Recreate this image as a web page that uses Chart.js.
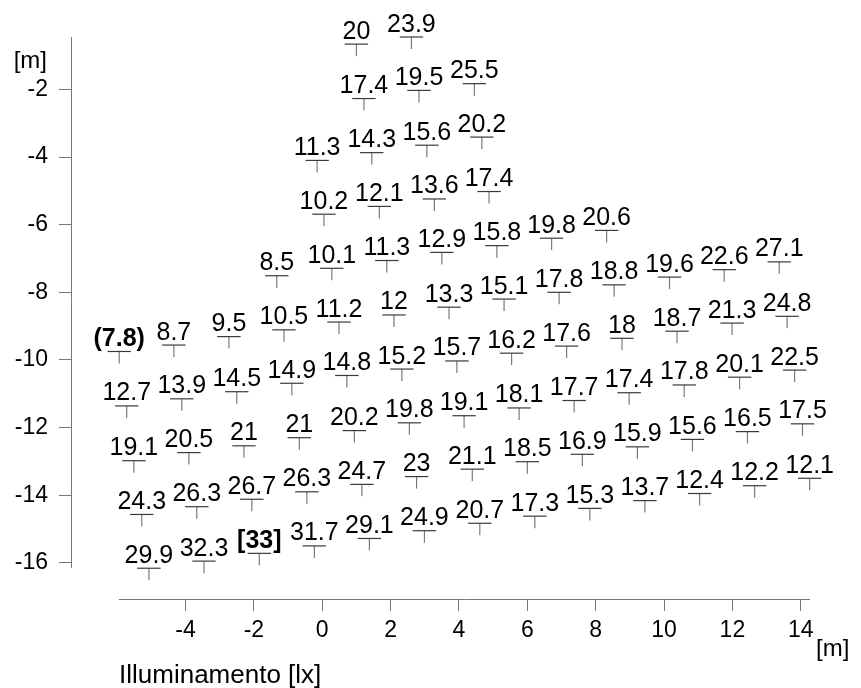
<!DOCTYPE html>
<html>
<head>
<meta charset="utf-8">
<script src="https://cdn.jsdelivr.net/npm/chart.js@4.4.1/dist/chart.umd.min.js"></script>
<style>
    html, body { margin: 0; padding: 0; background: #fff; }
</style>
</head>
<body>
<canvas id="mapChart" width="861" height="688"></canvas>
<script>
// Illuminamento misurato (lx), riga per riga dall'alto
const illum = [
    20, 23.9,
    17.4, 19.5, 25.5,
    11.3, 14.3, 15.6, 20.2,
    10.2, 12.1, 13.6, 17.4,
    8.5, 10.1, 11.3, 12.9, 15.8, 19.8, 20.6,
    7.8, 8.7, 9.5, 10.5, 11.2, 12, 13.3, 15.1, 17.8, 18.8, 19.6, 22.6, 27.1,
    12.7, 13.9, 14.5, 14.9, 14.8, 15.2, 15.7, 16.2, 17.6, 18, 18.7, 21.3, 24.8,
    19.1, 20.5, 21, 21, 20.2, 19.8, 19.1, 18.1, 17.7, 17.4, 17.8, 20.1, 22.5,
    24.3, 26.3, 26.7, 26.3, 24.7, 23, 21.1, 18.5, 16.9, 15.9, 15.6, 16.5, 17.5,
    29.9, 32.3, 33, 31.7, 29.1, 24.9, 20.7, 17.3, 15.3, 13.7, 12.4, 12.2, 12.1
];

// Posizione dei punti di misura [m]
const posX = [
    1.00, 2.61,
    1.22, 2.83, 4.45,
    -0.15, 1.45, 3.06, 4.67,
    0.05, 1.67, 3.28, 4.88,
    -1.33, 0.28, 1.89, 3.50, 5.11, 6.71, 8.32,
    -5.94, -4.34, -2.73, -1.12, 0.49, 2.10, 3.71, 5.32, 6.93, 8.54, 10.16, 11.76, 13.37,
    -5.72, -4.11, -2.50, -0.89, 0.72, 2.33, 3.94, 5.54, 7.15, 8.77, 10.38, 11.99, 13.60,
    -5.51, -3.90, -2.29, -0.67, 0.94, 2.55, 4.15, 5.76, 7.37, 8.98, 10.59, 12.21, 13.82,
    -5.28, -3.67, -2.06, -0.45, 1.16, 2.76, 4.39, 6.00, 7.61, 9.22, 10.83, 12.44, 14.05,
    -5.07, -3.46, -1.84, -0.23, 1.38, 2.99, 4.61, 6.22, 7.83, 9.44, 11.04, 12.65, 14.26
];
const posY = [
    -0.66, -0.45,
    -2.27, -2.03, -1.83,
    -4.10, -3.87, -3.65, -3.41,
    -5.69, -5.46, -5.24, -5.02,
    -7.51, -7.29, -7.06, -6.82, -6.62, -6.40, -6.17,
    -9.75, -9.56, -9.31, -9.11, -8.88, -8.67, -8.44, -8.20, -8.00, -7.78, -7.55, -7.33, -7.10,
    -11.36, -11.15, -10.94, -10.69, -10.46, -10.27, -10.03, -9.80, -9.59, -9.36, -9.15, -8.91, -8.71,
    -12.98, -12.74, -12.54, -12.30, -12.09, -11.86, -11.65, -11.42, -11.20, -10.97, -10.74, -10.51, -10.30,
    -14.57, -14.34, -14.12, -13.90, -13.68, -13.45, -13.23, -13.01, -12.79, -12.57, -12.35, -12.12, -11.89,
    -16.16, -15.95, -15.72, -15.50, -15.28, -15.05, -14.83, -14.62, -14.39, -14.16, -13.95, -13.72, -13.50
];

const xTicks = [-4, -2, 0, 2, 4, 6, 8, 10, 12, 14];
const yTicks = [-2, -4, -6, -8, -10, -12, -14, -16];

const FONT = '"Liberation Sans", Arial, sans-serif';
const points = posX.map((x, i) => ({ x: x, y: posY[i] }));

// etichette dei valori + assi disegnati a mano
const mapLabels = {
    id: 'mapLabels',
    afterDatasetsDraw(chart) {
        const ctx = chart.ctx;
        const meta = chart.getDatasetMeta(0);
        const lo = Math.min(...illum);
        const hi = Math.max(...illum);
        ctx.save();
        ctx.fillStyle = '#000';
        ctx.textAlign = 'center';
        ctx.textBaseline = 'alphabetic';
        meta.data.forEach((pt, i) => {
            const v = illum[i];
            let txt = String(v);
            let bold = false;
            if (v === lo) { txt = '(' + v + ')'; bold = true; }
            if (v === hi) { txt = '[' + v + ']'; bold = true; }
            ctx.font = (bold ? 'bold ' : '') + '25px ' + FONT;
            ctx.fillText(txt, pt.x, pt.y - 5.5);
        });
        ctx.restore();
    },
    afterDraw(chart) {
        const ctx = chart.ctx;
        const area = chart.chartArea;
        const xs = chart.scales.x;
        const ys = chart.scales.y;
        ctx.save();
        ctx.strokeStyle = '#777';
        ctx.lineWidth = 1;
        ctx.beginPath();
        // asse y
        ctx.moveTo(area.left + 0.5, area.top);
        ctx.lineTo(area.left + 0.5, ys.getPixelForValue(-16.15));
        // asse x
        ctx.moveTo(xs.getPixelForValue(-5.95), area.bottom + 0.5);
        ctx.lineTo(area.right, area.bottom + 0.5);
        ctx.stroke();

        ctx.fillStyle = '#000';
        ctx.font = '24px ' + FONT;
        ctx.textAlign = 'right';
        ctx.fillText('[m]', 47, 67.5);
        ctx.textAlign = 'left';
        ctx.fillText('[m]', 816, 655.5);
        ctx.font = '26px ' + FONT;
        ctx.fillText('Illuminamento [lx]', 119, 683);
        ctx.restore();
    }
};

const ctx = document.getElementById('mapChart').getContext('2d');

new Chart(ctx, {
    type: 'scatter',
    data: {
        datasets: [{
            data: points,
            pointStyle: 'line',
            pointRadius: 11.7,
            pointBorderColor: '#3a3a3a',
            pointBorderWidth: 1.2,
            clip: false
        }, {
            data: points,
            pointStyle: 'dash',
            pointRotation: 90,
            pointRadius: 12,
            pointBorderColor: '#7a7a7a',
            pointBorderWidth: 1.2,
            clip: false
        }]
    },
    options: {
        responsive: false,
        animation: false,
        events: [],
        layout: {
            padding: { top: 37, right: 51, left: 0, bottom: 0 }
        },
        plugins: {
            legend: { display: false },
            tooltip: { enabled: false }
        },
        scales: {
            x: {
                type: 'linear',
                min: -7.35,
                max: 14.27,
                afterBuildTicks: scale => { scale.ticks = xTicks.map(v => ({ value: v })); },
                afterFit: scale => { scale.height = 89; },
                border: { display: false },
                grid: { drawOnChartArea: false, drawTicks: true, tickLength: 12, color: '#777', lineWidth: 1 },
                ticks: { color: '#000', font: { family: FONT, size: 23 }, padding: 6, maxRotation: 0, autoSkip: false }
            },
            y: {
                type: 'linear',
                min: -17.07,
                max: -0.45,
                afterBuildTicks: scale => { scale.ticks = yTicks.map(v => ({ value: v })); },
                afterFit: scale => { scale.width = 71; },
                border: { display: false },
                grid: { drawOnChartArea: false, drawTicks: true, tickLength: 12, color: '#777', lineWidth: 1 },
                ticks: { color: '#000', font: { family: FONT, size: 23 }, padding: 11, autoSkip: false }
            }
        }
    },
    plugins: [mapLabels]
});
</script>
</body>
</html>
